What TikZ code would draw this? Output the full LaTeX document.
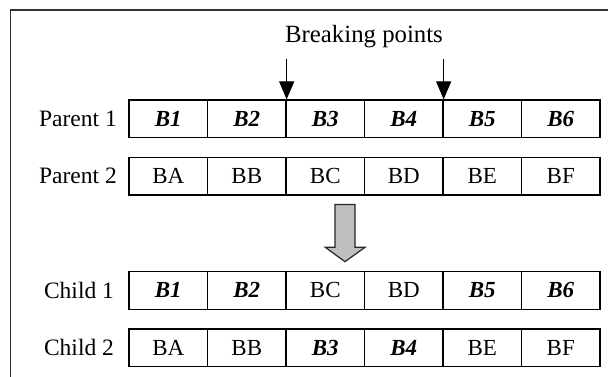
\documentclass[tikz,border=0pt]{standalone}
\usepackage{fontspec}
\setmainfont{Liberation Serif}
\usetikzlibrary{arrows.meta}

\tikzset{
  cell/.style={draw, line width=1.3pt, minimum width=78.5pt, minimum height=37.7pt,
    inner sep=0pt, font=\fontsize{23}{27}\selectfont},
  rowlabel/.style={inner sep=0pt, font=\fontsize{23.5}{27}\selectfont},
  heading/.style={inner sep=0pt, anchor=base, font=\fontsize{24.8}{28}\selectfont},
  bparrow/.style={line width=1.3pt, -{Triangle[length=18pt,width=15pt]}},
  frameline/.style={line width=1.8pt, black!80},
  bigarrow/.style={draw=black!85, line width=1.2pt, fill=black!25, line join=miter},
}
\newcommand{\gene}[1]{\textbf{\textit{#1}}}

\begin{document}
\begin{tikzpicture}[x=1pt, y=-1pt]
  \useasboundingbox (0,0) rectangle (608,377);

  % outer frame (open at the right and bottom)
  \draw[frameline] (10.5,377) -- (10.5,10) -- (608,10);

  % chromosome rows
  \foreach \row/\yc in {p1/118.85, p2/176.2, c1/290.3, c2/347.9} {
    \foreach \i in {1,...,6} {
      \coordinate (\row pos\i) at ({129+78.5*(\i-0.5)}, \yc);
    }
  }
  \foreach \i/\t in {1/\gene{B1},2/\gene{B2},3/\gene{B3},4/\gene{B4},5/\gene{B5},6/\gene{B6}}
    \node[cell] (p1c\i) at (p1pos\i) {\t};
  \foreach \i/\t in {1/BA,2/BB,3/BC,4/BD,5/BE,6/BF}
    \node[cell] (p2c\i) at (p2pos\i) {\t};
  \foreach \i/\t in {1/\gene{B1},2/\gene{B2},3/BC,4/BD,5/\gene{B5},6/\gene{B6}}
    \node[cell] (c1c\i) at (c1pos\i) {\t};
  \foreach \i/\t in {1/BA,2/BB,3/\gene{B3},4/\gene{B4},5/BE,6/BF}
    \node[cell] (c2c\i) at (c2pos\i) {\t};

  % row labels
  \node[rowlabel] (lp1) at (78,118.85) {Parent 1};
  \node[rowlabel] (lp2) at (78,176.2) {Parent 2};
  \node[rowlabel] (lc1) at (79,290.3) {Child 1};
  \node[rowlabel] (lc2) at (79,347.9) {Child 2};

  % breaking points
  \node[heading] (bp) at (364,43) {Breaking points};
  \coordinate (bp1) at (p1c2.north east |- 0,59);
  \coordinate (bp2) at (p1c4.north east |- 0,59);
  \draw[bparrow] (bp1) -- (p1c2.north east);
  \draw[bparrow] (bp2) -- (p1c4.north east);

  % crossover arrow
  \draw[bigarrow] (335,204.5) -- (355,204.5) -- (355,247.3) -- (365,247.3)
    -- (345,261.7) -- (325.3,247.3) -- (335,247.3) -- cycle;
\end{tikzpicture}
\end{document}
